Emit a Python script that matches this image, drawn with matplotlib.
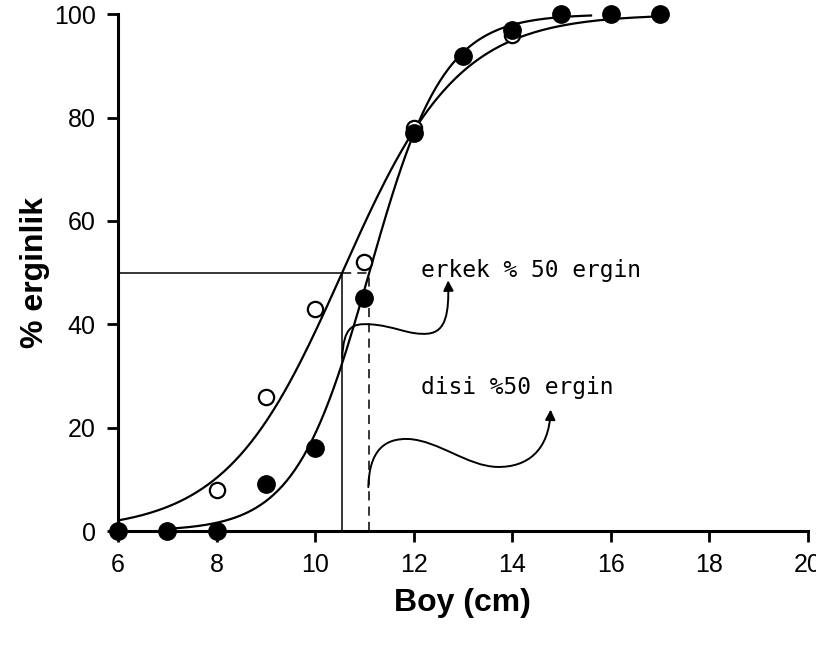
import matplotlib
matplotlib.use("Agg")
import matplotlib.pyplot as plt
import numpy as np
from matplotlib.path import Path
from matplotlib.patches import FancyArrowPatch

# Observed maturity by length class
boy = [6, 7, 8, 9, 10, 11, 12, 13, 14, 15, 16, 17]
disi_pct = [0, 0, 0, 9, 16, 45, 77, 92, 97, 100, 100, 100]
erkek_boy = [8, 9, 10, 11, 12, 14]
erkek_pct = [8, 26, 43, 52, 78, 96]

# Logistic fits: (L50, slope, plotted range)
erkek_l50, erkek_r, erkek_span = 10.55, 0.85, (6.0, 17.0)
disi_l50, disi_r, disi_span = 11.1, 1.33, (7.0, 15.6)


def logistic(x, l50, r):
    return 100.0 / (1.0 + np.exp(-r * (x - l50)))


plt.rcParams["font.family"] = ["Liberation Sans", "DejaVu Sans"]

fig = plt.figure(figsize=(8.16, 6.46), dpi=100)
ax = fig.add_axes([0.1446, 0.178, 0.8454, 0.800])

xm = np.linspace(*erkek_span, 200)
xf = np.linspace(*disi_span, 200)
ax.plot(xm, logistic(xm, erkek_l50, erkek_r), color="black", lw=1.6)
ax.plot(xf, logistic(xf, disi_l50, disi_r), color="black", lw=1.6)

ax.plot(erkek_boy, erkek_pct, "o", ms=11, mfc="white", mec="black", mew=1.6,
        clip_on=False, zorder=4)
ax.plot(boy, disi_pct, "o", ms=12.5, mfc="black", mec="black",
        clip_on=False, zorder=5)

# 50 % maturity reference lines
ax.plot([6, erkek_l50], [50, 50], color="black", lw=1.1)
ax.plot([erkek_l50, disi_l50], [50, 50], color="black", lw=1.1, ls=(0, (6, 4)))
ax.plot([erkek_l50, erkek_l50], [0, 50], color="black", lw=1.1)
ax.plot([disi_l50, disi_l50], [0, 50], color="black", lw=1.1, ls=(0, (6, 4)))

# curved pointers to the labels
curve_codes = [Path.MOVETO] + [Path.CURVE4] * 9
erkek_path = Path([(10.55, 33.5),
                   (10.58, 39.5), (10.75, 40.2), (11.1, 40.0),
                   (11.6, 39.8), (11.9, 37.8), (12.3, 38.2),
                   (12.65, 38.6), (12.72, 42.0), (12.7, 48.5)], curve_codes)
disi_path = Path([(11.08, 8.5),
                  (11.1, 15.5), (11.4, 18.0), (11.9, 17.8),
                  (12.5, 17.5), (13.1, 12.5), (13.7, 12.4),
                  (14.3, 12.3), (14.75, 15.5), (14.78, 23.5)], curve_codes)
for p in (erkek_path, disi_path):
    ax.add_patch(FancyArrowPatch(path=p, arrowstyle="-|>", mutation_scale=15,
                                 color="black", lw=1.4))

ax.text(12.14, 50.5, "erkek % 50 ergin", fontsize=16.5, va="center",
        family="DejaVu Sans Mono")
ax.text(12.14, 27.7, "disi %50 ergin", fontsize=16.5, va="center",
        family="DejaVu Sans Mono")

ax.set_xlim(6, 20)
ax.set_ylim(0, 100)
ax.set_xticks(range(6, 21, 2))
ax.set_yticks(range(0, 101, 20))
ax.spines["top"].set_visible(False)
ax.spines["right"].set_visible(False)
for s in ("left", "bottom"):
    ax.spines[s].set_linewidth(2.2)
ax.tick_params(direction="out", length=8, width=2, labelsize=18, pad=8)

ax.set_xlabel("Boy (cm)", fontsize=23, fontweight="bold", labelpad=8)
ax.set_ylabel("% erginlik", fontsize=23, fontweight="bold", labelpad=3)

fig.savefig("out.png", dpi=100)
